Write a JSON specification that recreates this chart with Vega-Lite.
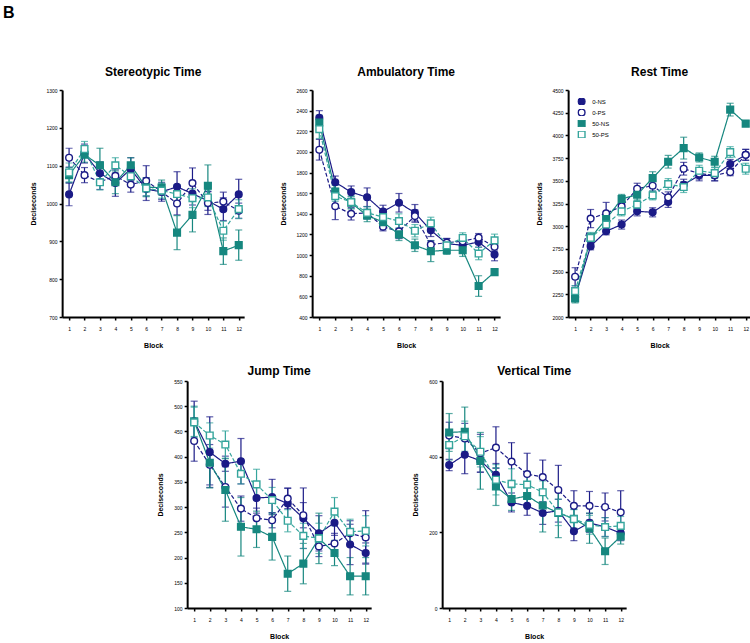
{
  "$schema": "https://vega.github.io/schema/vega-lite/v6.json",
  "padding": {"left": 3, "top": 5, "right": 0, "bottom": 0},
  "title": {"text": "B", "anchor": "start", "fontSize": 16, "fontWeight": "bold", "dx": -26, "offset": 45, "color": "#000"},
  "datasets": {
    "stereo": [
      {"b":1,"g":"0-NS","m":1024,"e":30},{"b":2,"g":"0-NS","m":1132,"e":25},{"b":3,"g":"0-NS","m":1080,"e":30},{"b":4,"g":"0-NS","m":1054,"e":35},{"b":5,"g":"0-NS","m":1091,"e":30},{"b":6,"g":"0-NS","m":1038,"e":30},{"b":7,"g":"0-NS","m":1031,"e":25},{"b":8,"g":"0-NS","m":1044,"e":40},{"b":9,"g":"0-NS","m":1026,"e":30},{"b":10,"g":"0-NS","m":1007,"e":25},{"b":11,"g":"0-NS","m":985,"e":30},{"b":12,"g":"0-NS","m":1024,"e":40},
      {"b":1,"g":"0-PS","m":1121,"e":25},{"b":2,"g":"0-PS","m":1075,"e":20},{"b":3,"g":"0-PS","m":1057,"e":20},{"b":4,"g":"0-PS","m":1073,"e":20},{"b":5,"g":"0-PS","m":1050,"e":20},{"b":6,"g":"0-PS","m":1060,"e":40},{"b":7,"g":"0-PS","m":1031,"e":20},{"b":8,"g":"0-PS","m":1000,"e":30},{"b":9,"g":"0-PS","m":1054,"e":40},{"b":10,"g":"0-PS","m":1001,"e":30},{"b":11,"g":"0-PS","m":1005,"e":25},{"b":12,"g":"0-PS","m":981,"e":20},
      {"b":1,"g":"50-NS","m":1075,"e":20},{"b":2,"g":"50-NS","m":1129,"e":20},{"b":3,"g":"50-NS","m":1101,"e":45},{"b":4,"g":"50-NS","m":1056,"e":30},{"b":5,"g":"50-NS","m":1101,"e":20},{"b":6,"g":"50-NS","m":1043,"e":25},{"b":7,"g":"50-NS","m":1042,"e":20},{"b":8,"g":"50-NS","m":923,"e":45},{"b":9,"g":"50-NS","m":970,"e":45},{"b":10,"g":"50-NS","m":1047,"e":55},{"b":11,"g":"50-NS","m":874,"e":35},{"b":12,"g":"50-NS","m":890,"e":40},
      {"b":1,"g":"50-PS","m":1082,"e":25},{"b":2,"g":"50-PS","m":1144,"e":20},{"b":3,"g":"50-PS","m":1056,"e":20},{"b":4,"g":"50-PS","m":1101,"e":20},{"b":5,"g":"50-PS","m":1072,"e":15},{"b":6,"g":"50-PS","m":1040,"e":20},{"b":7,"g":"50-PS","m":1034,"e":20},{"b":8,"g":"50-PS","m":1025,"e":25},{"b":9,"g":"50-PS","m":1014,"e":25},{"b":10,"g":"50-PS","m":1016,"e":20},{"b":11,"g":"50-PS","m":928,"e":25},{"b":12,"g":"50-PS","m":985,"e":25}
    ],
    "amb": [
      {"b":1,"g":"0-NS","m":2330,"e":70},{"b":2,"g":"0-NS","m":1706,"e":60},{"b":3,"g":"0-NS","m":1610,"e":60},{"b":4,"g":"0-NS","m":1561,"e":90},{"b":5,"g":"0-NS","m":1423,"e":60},{"b":6,"g":"0-NS","m":1507,"e":90},{"b":7,"g":"0-NS","m":1410,"e":80},{"b":8,"g":"0-NS","m":1240,"e":60},{"b":9,"g":"0-NS","m":1111,"e":50},{"b":10,"g":"0-NS","m":1095,"e":50},{"b":11,"g":"0-NS","m":1127,"e":50},{"b":12,"g":"0-NS","m":1005,"e":60},
      {"b":1,"g":"0-PS","m":2021,"e":100},{"b":2,"g":"0-PS","m":1474,"e":130},{"b":3,"g":"0-PS","m":1400,"e":60},{"b":4,"g":"0-PS","m":1410,"e":60},{"b":5,"g":"0-PS","m":1275,"e":40},{"b":6,"g":"0-PS","m":1230,"e":70},{"b":7,"g":"0-PS","m":1378,"e":60},{"b":8,"g":"0-PS","m":1101,"e":40},{"b":9,"g":"0-PS","m":1121,"e":40},{"b":10,"g":"0-PS","m":1134,"e":40},{"b":11,"g":"0-PS","m":1169,"e":40},{"b":12,"g":"0-PS","m":1080,"e":40},
      {"b":1,"g":"50-NS","m":2285,"e":70},{"b":2,"g":"50-NS","m":1616,"e":60},{"b":3,"g":"50-NS","m":1507,"e":60},{"b":4,"g":"50-NS","m":1384,"e":60},{"b":5,"g":"50-NS","m":1320,"e":50},{"b":6,"g":"50-NS","m":1201,"e":60},{"b":7,"g":"50-NS","m":1095,"e":60},{"b":8,"g":"50-NS","m":1037,"e":100},{"b":9,"g":"50-NS","m":1047,"e":40},{"b":10,"g":"50-NS","m":1047,"e":60},{"b":11,"g":"50-NS","m":700,"e":100},{"b":12,"g":"50-NS","m":835,"e":25},
      {"b":1,"g":"50-PS","m":2220,"e":90},{"b":2,"g":"50-PS","m":1571,"e":50},{"b":3,"g":"50-PS","m":1513,"e":60},{"b":4,"g":"50-PS","m":1410,"e":60},{"b":5,"g":"50-PS","m":1368,"e":50},{"b":6,"g":"50-PS","m":1330,"e":70},{"b":7,"g":"50-PS","m":1236,"e":60},{"b":8,"g":"50-PS","m":1307,"e":60},{"b":9,"g":"50-PS","m":1095,"e":40},{"b":10,"g":"50-PS","m":1166,"e":50},{"b":11,"g":"50-PS","m":1015,"e":60},{"b":12,"g":"50-PS","m":1143,"e":60}
    ],
    "rest": [
      {"b":1,"g":"0-NS","m":2220,"e":40},{"b":2,"g":"0-NS","m":2780,"e":40},{"b":3,"g":"0-NS","m":2945,"e":40},{"b":4,"g":"0-NS","m":3018,"e":50},{"b":5,"g":"0-NS","m":3164,"e":50},{"b":6,"g":"0-NS","m":3153,"e":50},{"b":7,"g":"0-NS","m":3267,"e":60},{"b":8,"g":"0-NS","m":3457,"e":60},{"b":9,"g":"0-NS","m":3560,"e":60},{"b":10,"g":"0-NS","m":3560,"e":60},{"b":11,"g":"0-NS","m":3684,"e":50},{"b":12,"g":"0-NS","m":3786,"e":60},
      {"b":1,"g":"0-PS","m":2443,"e":100},{"b":2,"g":"0-PS","m":3084,"e":100},{"b":3,"g":"0-PS","m":3142,"e":120},{"b":4,"g":"0-PS","m":3219,"e":50},{"b":5,"g":"0-PS","m":3413,"e":60},{"b":6,"g":"0-PS","m":3446,"e":60},{"b":7,"g":"0-PS","m":3318,"e":60},{"b":8,"g":"0-PS","m":3633,"e":70},{"b":9,"g":"0-PS","m":3580,"e":60},{"b":10,"g":"0-PS","m":3560,"e":60},{"b":11,"g":"0-PS","m":3596,"e":40},{"b":12,"g":"0-PS","m":3786,"e":60},
      {"b":1,"g":"50-NS","m":2205,"e":50},{"b":2,"g":"50-NS","m":2871,"e":50},{"b":3,"g":"50-NS","m":3080,"e":50},{"b":4,"g":"50-NS","m":3300,"e":50},{"b":5,"g":"50-NS","m":3347,"e":60},{"b":6,"g":"50-NS","m":3530,"e":70},{"b":7,"g":"50-NS","m":3710,"e":70},{"b":8,"g":"50-NS","m":3860,"e":120},{"b":9,"g":"50-NS","m":3757,"e":50},{"b":10,"g":"50-NS","m":3710,"e":60},{"b":11,"g":"50-NS","m":4284,"e":70},{"b":12,"g":"50-NS","m":4130,"e":30},
      {"b":1,"g":"50-PS","m":2286,"e":60},{"b":2,"g":"50-PS","m":2871,"e":60},{"b":3,"g":"50-PS","m":3018,"e":50},{"b":4,"g":"50-PS","m":3164,"e":50},{"b":5,"g":"50-PS","m":3237,"e":50},{"b":6,"g":"50-PS","m":3340,"e":50},{"b":7,"g":"50-PS","m":3464,"e":60},{"b":8,"g":"50-PS","m":3431,"e":60},{"b":9,"g":"50-PS","m":3611,"e":60},{"b":10,"g":"50-PS","m":3585,"e":60},{"b":11,"g":"50-PS","m":3816,"e":60},{"b":12,"g":"50-PS","m":3633,"e":60}
    ],
    "jump": [
      {"b":1,"g":"0-NS","m":470,"e":40},{"b":2,"g":"0-NS","m":409,"e":70},{"b":3,"g":"0-NS","m":386,"e":15},{"b":4,"g":"0-NS","m":391,"e":45},{"b":5,"g":"0-NS","m":318,"e":30},{"b":6,"g":"0-NS","m":320,"e":35},{"b":7,"g":"0-NS","m":307,"e":31},{"b":8,"g":"0-NS","m":278,"e":60},{"b":9,"g":"0-NS","m":248,"e":35},{"b":10,"g":"0-NS","m":269,"e":25},{"b":11,"g":"0-NS","m":226,"e":40},{"b":12,"g":"0-NS","m":209,"e":20},
      {"b":1,"g":"0-PS","m":431,"e":40},{"b":2,"g":"0-PS","m":384,"e":40},{"b":3,"g":"0-PS","m":340,"e":40},{"b":4,"g":"0-PS","m":297,"e":25},{"b":5,"g":"0-PS","m":278,"e":20},{"b":6,"g":"0-PS","m":274,"e":15},{"b":7,"g":"0-PS","m":317,"e":20},{"b":8,"g":"0-PS","m":284,"e":25},{"b":9,"g":"0-PS","m":222,"e":20},{"b":10,"g":"0-PS","m":228,"e":20},{"b":11,"g":"0-PS","m":248,"e":25},{"b":12,"g":"0-PS","m":240,"e":53},
      {"b":1,"g":"50-NS","m":470,"e":30},{"b":2,"g":"50-NS","m":388,"e":50},{"b":3,"g":"50-NS","m":334,"e":62},{"b":4,"g":"50-NS","m":261,"e":58},{"b":5,"g":"50-NS","m":256,"e":36},{"b":6,"g":"50-NS","m":241,"e":46},{"b":7,"g":"50-NS","m":168,"e":35},{"b":8,"g":"50-NS","m":188,"e":40},{"b":9,"g":"50-NS","m":238,"e":50},{"b":10,"g":"50-NS","m":209,"e":25},{"b":11,"g":"50-NS","m":163,"e":37},{"b":12,"g":"50-NS","m":163,"e":37},
      {"b":1,"g":"50-PS","m":468,"e":30},{"b":2,"g":"50-PS","m":442,"e":25},{"b":3,"g":"50-PS","m":424,"e":27},{"b":4,"g":"50-PS","m":366,"e":20},{"b":5,"g":"50-PS","m":345,"e":30},{"b":6,"g":"50-PS","m":314,"e":25},{"b":7,"g":"50-PS","m":273,"e":22},{"b":8,"g":"50-PS","m":243,"e":25},{"b":9,"g":"50-PS","m":238,"e":30},{"b":10,"g":"50-PS","m":291,"e":28},{"b":11,"g":"50-PS","m":251,"e":25},{"b":12,"g":"50-PS","m":253,"e":30}
    ],
    "vert": [
      {"b":1,"g":"0-NS","m":378,"e":15},{"b":2,"g":"0-NS","m":405,"e":50},{"b":3,"g":"0-NS","m":389,"e":30},{"b":4,"g":"0-NS","m":352,"e":30},{"b":5,"g":"0-NS","m":279,"e":25},{"b":6,"g":"0-NS","m":270,"e":25},{"b":7,"g":"0-NS","m":251,"e":30},{"b":8,"g":"0-NS","m":257,"e":30},{"b":9,"g":"0-NS","m":203,"e":25},{"b":10,"g":"0-NS","m":225,"e":25},{"b":11,"g":"0-NS","m":214,"e":25},{"b":12,"g":"0-NS","m":198,"e":20},
      {"b":1,"g":"0-PS","m":456,"e":35},{"b":2,"g":"0-PS","m":448,"e":40},{"b":3,"g":"0-PS","m":409,"e":50},{"b":4,"g":"0-PS","m":424,"e":55},{"b":5,"g":"0-PS","m":387,"e":50},{"b":6,"g":"0-PS","m":354,"e":55},{"b":7,"g":"0-PS","m":346,"e":45},{"b":8,"g":"0-PS","m":312,"e":65},{"b":9,"g":"0-PS","m":270,"e":40},{"b":10,"g":"0-PS","m":270,"e":38},{"b":11,"g":"0-PS","m":267,"e":37},{"b":12,"g":"0-PS","m":253,"e":57},
      {"b":1,"g":"50-NS","m":464,"e":50},{"b":2,"g":"50-NS","m":466,"e":65},{"b":3,"g":"50-NS","m":389,"e":75},{"b":4,"g":"50-NS","m":321,"e":50},{"b":5,"g":"50-NS","m":288,"e":30},{"b":6,"g":"50-NS","m":296,"e":30},{"b":7,"g":"50-NS","m":271,"e":70},{"b":8,"g":"50-NS","m":251,"e":65},{"b":9,"g":"50-NS","m":236,"e":25},{"b":10,"g":"50-NS","m":211,"e":40},{"b":11,"g":"50-NS","m":150,"e":35},{"b":12,"g":"50-NS","m":189,"e":20},
      {"b":1,"g":"50-PS","m":431,"e":40},{"b":2,"g":"50-PS","m":454,"e":40},{"b":3,"g":"50-PS","m":413,"e":40},{"b":4,"g":"50-PS","m":339,"e":40},{"b":5,"g":"50-PS","m":328,"e":40},{"b":6,"g":"50-PS","m":326,"e":35},{"b":7,"g":"50-PS","m":306,"e":30},{"b":8,"g":"50-PS","m":253,"e":35},{"b":9,"g":"50-PS","m":235,"e":25},{"b":10,"g":"50-PS","m":220,"e":25},{"b":11,"g":"50-PS","m":214,"e":25},{"b":12,"g":"50-PS","m":217,"e":25}
    ]
  },
  "spacing": 17,
  "center": true,
  "resolve": {"scale": {"color": "independent", "fill": "independent", "stroke": "independent", "shape": "independent", "strokeDash": "independent"}, "legend": {"color": "independent", "fill": "independent", "stroke": "independent", "shape": "independent", "strokeDash": "independent"}},
  "vconcat": [
    {
      "spacing": 33,
      "resolve": {"scale": {"color": "independent", "fill": "independent", "stroke": "independent", "shape": "independent", "strokeDash": "independent"}, "legend": {"color": "independent", "fill": "independent", "stroke": "independent", "shape": "independent", "strokeDash": "independent"}},
      "hconcat": [
        {
          "title": {"text": "Stereotypic Time", "offset": 9},
          "width": 182, "height": 227,
          "data": {"name": "stereo"},
          "encoding": {
            "x": {"field": "b", "type": "quantitative", "scale": {"domain": [0.55, 12.35], "nice": false, "zero": false}, "axis": {"values": [1,2,3,4,5,6,7,8,9,10,11,12], "title": "Block", "format": "d"}},
            "y": {"field": "m", "type": "quantitative", "scale": {"domain": [700, 1300], "nice": false, "zero": false}, "axis": {"values": [700,800,900,1000,1100,1200,1300], "title": "Deciseconds", "format": "d"}}
          },
          "layer": [
            {"mark": {"type": "errorbar", "ticks": true, "size": 7, "thickness": 1.2}, "encoding": {"yError": {"field": "e"}, "color": {"field": "g", "type": "nominal", "scale": {"range": ["#1b1b87","#1b1b87","#16877f","#35a59c"]}, "legend": null}}},
            {"mark": {"type": "line", "strokeWidth": 1.2}, "encoding": {"color": {"field": "g", "type": "nominal", "scale": {"range": ["#1b1b87","#1b1b87","#16877f","#35a59c"]}, "legend": null}, "strokeDash": {"field": "g", "type": "nominal", "scale": {"range": [[1,0],[4,2],[1,0],[4,2]]}, "legend": null}}},
            {"mark": {"type": "point", "filled": true, "size": 45, "strokeWidth": 1.4, "opacity": 1}, "encoding": {"fill": {"field": "g", "type": "nominal", "scale": {"domain": ["0-NS","0-PS","50-NS","50-PS"], "range": ["#1b1b87","#ffffff","#16877f","#ffffff"]}, "legend": null}, "stroke": {"field": "g", "type": "nominal", "scale": {"domain": ["0-NS","0-PS","50-NS","50-PS"], "range": ["#1b1b87","#1b1b87","#16877f","#35a59c"]}, "legend": null}, "shape": {"field": "g", "type": "nominal", "scale": {"domain": ["0-NS","0-PS","50-NS","50-PS"], "range": ["circle","circle","square","square"]}, "legend": null}}},
            {"data": {"values": [{"t": "As x Block"}]}, "mark": {"type": "text", "align": "left", "baseline": "middle", "fontSize": 5.5, "color": "#444"}, "encoding": {"x": {"datum": 0.95}, "y": {"datum": 727}, "text": {"field": "t"}}}
          ]
        },
        {
          "title": {"text": "Ambulatory Time", "offset": 9},
          "width": 188, "height": 227,
          "data": {"name": "amb"},
          "encoding": {
            "x": {"field": "b", "type": "quantitative", "scale": {"domain": [0.55, 12.35], "nice": false, "zero": false}, "axis": {"values": [1,2,3,4,5,6,7,8,9,10,11,12], "title": "Block", "format": "d"}},
            "y": {"field": "m", "type": "quantitative", "scale": {"domain": [400, 2600], "nice": false, "zero": false}, "axis": {"values": [400,600,800,1000,1200,1400,1600,1800,2000,2200,2400,2600], "title": "Deciseconds", "format": "d"}}
          },
          "layer": [
            {"mark": {"type": "errorbar", "ticks": true, "size": 7, "thickness": 1.2}, "encoding": {"yError": {"field": "e"}, "color": {"field": "g", "type": "nominal", "scale": {"range": ["#1b1b87","#1b1b87","#16877f","#35a59c"]}, "legend": null}}},
            {"mark": {"type": "line", "strokeWidth": 1.2}, "encoding": {"color": {"field": "g", "type": "nominal", "scale": {"range": ["#1b1b87","#1b1b87","#16877f","#35a59c"]}, "legend": null}, "strokeDash": {"field": "g", "type": "nominal", "scale": {"range": [[1,0],[4,2],[1,0],[4,2]]}, "legend": null}}},
            {"mark": {"type": "point", "filled": true, "size": 45, "strokeWidth": 1.4, "opacity": 1}, "encoding": {"fill": {"field": "g", "type": "nominal", "scale": {"domain": ["0-NS","0-PS","50-NS","50-PS"], "range": ["#1b1b87","#ffffff","#16877f","#ffffff"]}, "legend": null}, "stroke": {"field": "g", "type": "nominal", "scale": {"domain": ["0-NS","0-PS","50-NS","50-PS"], "range": ["#1b1b87","#1b1b87","#16877f","#35a59c"]}, "legend": null}, "shape": {"field": "g", "type": "nominal", "scale": {"domain": ["0-NS","0-PS","50-NS","50-PS"], "range": ["circle","circle","square","square"]}, "legend": null}}},
            {"data": {"values": [{"t": "As x PS; PS x Block"}]}, "mark": {"type": "text", "align": "left", "baseline": "middle", "fontSize": 5.5, "color": "#444"}, "encoding": {"x": {"datum": 1.0}, "y": {"datum": 507}, "text": {"field": "t"}}}
          ]
        },
        {
          "title": {"text": "Rest Time", "offset": 9},
          "width": 183, "height": 227,
          "data": {"name": "rest"},
          "encoding": {
            "x": {"field": "b", "type": "quantitative", "scale": {"domain": [0.55, 12.35], "nice": false, "zero": false}, "axis": {"values": [1,2,3,4,5,6,7,8,9,10,11,12], "title": "Block", "format": "d"}},
            "y": {"field": "m", "type": "quantitative", "scale": {"domain": [2000, 4500], "nice": false, "zero": false}, "axis": {"values": [2000,2250,2500,2750,3000,3250,3500,3750,4000,4250,4500], "title": "Deciseconds", "format": "d"}}
          },
          "layer": [
            {"mark": {"type": "errorbar", "ticks": true, "size": 7, "thickness": 1.2}, "encoding": {"yError": {"field": "e"}, "color": {"field": "g", "type": "nominal", "scale": {"range": ["#1b1b87","#1b1b87","#16877f","#35a59c"]}, "legend": null}}},
            {"mark": {"type": "line", "strokeWidth": 1.2}, "encoding": {"color": {"field": "g", "type": "nominal", "scale": {"range": ["#1b1b87","#1b1b87","#16877f","#35a59c"]}, "legend": null}, "strokeDash": {"field": "g", "type": "nominal", "scale": {"range": [[1,0],[4,2],[1,0],[4,2]]}, "legend": null}}},
            {"mark": {"type": "point", "filled": true, "size": 45, "strokeWidth": 1.4, "opacity": 1}, "encoding": {
              "fill": {"field": "g", "type": "nominal", "scale": {"domain": ["0-NS","0-PS","50-NS","50-PS"], "range": ["#1b1b87","#ffffff","#16877f","#ffffff"]}, "legend": {"title": null, "orient": "none", "legendX": 9, "legendY": 8, "labelFontSize": 6, "symbolSize": 45, "symbolStrokeWidth": 1.4, "rowPadding": 4, "clipHeight": 7, "labelOffset": 6, "padding": 0}},
              "stroke": {"field": "g", "type": "nominal", "scale": {"domain": ["0-NS","0-PS","50-NS","50-PS"], "range": ["#1b1b87","#1b1b87","#16877f","#35a59c"]}, "legend": {"title": null, "orient": "none", "legendX": 9, "legendY": 8, "labelFontSize": 6, "symbolSize": 45, "symbolStrokeWidth": 1.4, "rowPadding": 4, "clipHeight": 7, "labelOffset": 6, "padding": 0}},
              "shape": {"field": "g", "type": "nominal", "scale": {"domain": ["0-NS","0-PS","50-NS","50-PS"], "range": ["circle","circle","square","square"]}, "legend": {"title": null, "orient": "none", "legendX": 9, "legendY": 8, "labelFontSize": 6, "symbolSize": 45, "symbolStrokeWidth": 1.4, "rowPadding": 4, "clipHeight": 7, "labelOffset": 6, "padding": 0}}}},
            {"data": {"values": [{"t": "As x PS; As x Block; PS x Block"}]}, "mark": {"type": "text", "align": "left", "baseline": "middle", "fontSize": 5.5, "color": "#444"}, "encoding": {"x": {"datum": 1.85}, "y": {"datum": 2121}, "text": {"field": "t"}}}
          ]
        }
      ]
    },
    {
      "spacing": 39,
      "resolve": {"scale": {"color": "independent", "fill": "independent", "stroke": "independent", "shape": "independent", "strokeDash": "independent"}, "legend": {"color": "independent", "fill": "independent", "stroke": "independent", "shape": "independent", "strokeDash": "independent"}},
      "hconcat": [
        {
          "title": {"text": "Jump Time", "offset": 1},
          "width": 184, "height": 227,
          "data": {"name": "jump"},
          "encoding": {
            "x": {"field": "b", "type": "quantitative", "scale": {"domain": [0.55, 12.35], "nice": false, "zero": false}, "axis": {"values": [1,2,3,4,5,6,7,8,9,10,11,12], "title": "Block", "format": "d"}},
            "y": {"field": "m", "type": "quantitative", "scale": {"domain": [100, 550], "nice": false, "zero": false}, "axis": {"values": [100,150,200,250,300,350,400,450,500,550], "title": "Deciseconds", "format": "d"}}
          },
          "layer": [
            {"mark": {"type": "errorbar", "ticks": true, "size": 7, "thickness": 1.2}, "encoding": {"yError": {"field": "e"}, "color": {"field": "g", "type": "nominal", "scale": {"range": ["#1b1b87","#1b1b87","#16877f","#35a59c"]}, "legend": null}}},
            {"mark": {"type": "line", "strokeWidth": 1.2}, "encoding": {"color": {"field": "g", "type": "nominal", "scale": {"range": ["#1b1b87","#1b1b87","#16877f","#35a59c"]}, "legend": null}, "strokeDash": {"field": "g", "type": "nominal", "scale": {"range": [[1,0],[4,2],[1,0],[4,2]]}, "legend": null}}},
            {"mark": {"type": "point", "filled": true, "size": 45, "strokeWidth": 1.4, "opacity": 1}, "encoding": {"fill": {"field": "g", "type": "nominal", "scale": {"domain": ["0-NS","0-PS","50-NS","50-PS"], "range": ["#1b1b87","#ffffff","#16877f","#ffffff"]}, "legend": null}, "stroke": {"field": "g", "type": "nominal", "scale": {"domain": ["0-NS","0-PS","50-NS","50-PS"], "range": ["#1b1b87","#1b1b87","#16877f","#35a59c"]}, "legend": null}, "shape": {"field": "g", "type": "nominal", "scale": {"domain": ["0-NS","0-PS","50-NS","50-PS"], "range": ["circle","circle","square","square"]}, "legend": null}}},
            {"data": {"values": [{"t": "As x PS"}]}, "mark": {"type": "text", "align": "left", "baseline": "middle", "fontSize": 5.5, "color": "#444"}, "encoding": {"x": {"datum": 0.95}, "y": {"datum": 122}, "text": {"field": "t"}}}
          ]
        },
        {
          "title": {"text": "Vertical Time", "offset": 1},
          "width": 184, "height": 227,
          "data": {"name": "vert"},
          "encoding": {
            "x": {"field": "b", "type": "quantitative", "scale": {"domain": [0.55, 12.35], "nice": false, "zero": false}, "axis": {"values": [1,2,3,4,5,6,7,8,9,10,11,12], "title": "Block", "format": "d"}},
            "y": {"field": "m", "type": "quantitative", "scale": {"domain": [0, 600], "nice": false, "zero": false}, "axis": {"values": [0,200,400,600], "title": "Deciseconds", "format": "d"}}
          },
          "layer": [
            {"mark": {"type": "errorbar", "ticks": true, "size": 7, "thickness": 1.2}, "encoding": {"yError": {"field": "e"}, "color": {"field": "g", "type": "nominal", "scale": {"range": ["#1b1b87","#1b1b87","#16877f","#35a59c"]}, "legend": null}}},
            {"mark": {"type": "line", "strokeWidth": 1.2}, "encoding": {"color": {"field": "g", "type": "nominal", "scale": {"range": ["#1b1b87","#1b1b87","#16877f","#35a59c"]}, "legend": null}, "strokeDash": {"field": "g", "type": "nominal", "scale": {"range": [[1,0],[4,2],[1,0],[4,2]]}, "legend": null}}},
            {"mark": {"type": "point", "filled": true, "size": 45, "strokeWidth": 1.4, "opacity": 1}, "encoding": {"fill": {"field": "g", "type": "nominal", "scale": {"domain": ["0-NS","0-PS","50-NS","50-PS"], "range": ["#1b1b87","#ffffff","#16877f","#ffffff"]}, "legend": null}, "stroke": {"field": "g", "type": "nominal", "scale": {"domain": ["0-NS","0-PS","50-NS","50-PS"], "range": ["#1b1b87","#1b1b87","#16877f","#35a59c"]}, "legend": null}, "shape": {"field": "g", "type": "nominal", "scale": {"domain": ["0-NS","0-PS","50-NS","50-PS"], "range": ["circle","circle","square","square"]}, "legend": null}}},
            {"data": {"values": [{"t": "PS"}]}, "mark": {"type": "text", "align": "left", "baseline": "middle", "fontSize": 5.5, "color": "#444"}, "encoding": {"x": {"datum": 1.07}, "y": {"datum": 26}, "text": {"field": "t"}}}
          ]
        }
      ]
    }
  ],
  "config": {
    "view": {"stroke": null},
    "font": "Liberation Sans",
    "background": "#ffffff",
    "title": {"fontSize": 12, "fontWeight": "bold", "color": "#000", "font": "Liberation Sans"},
    "axis": {"grid": false, "domainColor": "#000", "domainWidth": 2, "tickColor": "#000", "tickWidth": 1.5, "tickSize": 3, "labelFontSize": 5, "labelColor": "#000", "titleFontSize": 7, "titleFontWeight": "bold", "titleColor": "#000", "labelFont": "Liberation Sans", "titleFont": "Liberation Sans"},
    "axisX": {"labelPadding": 6, "titlePadding": 10},
    "axisY": {"labelPadding": 2, "titlePadding": 10},
    "legend": {"labelFont": "Liberation Sans", "labelColor": "#000"}
  }
}
